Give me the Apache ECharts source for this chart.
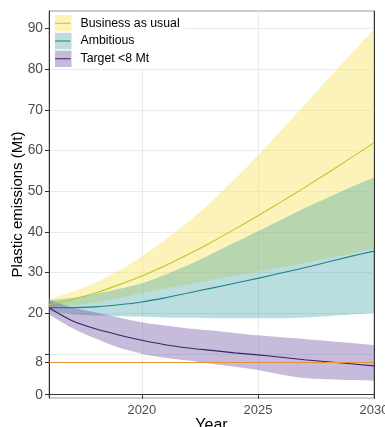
<!DOCTYPE html>
<html><head><meta charset="utf-8">
<script src="https://cdn.jsdelivr.net/npm/echarts@6/dist/echarts.min.js"></script>
<style>html,body{margin:0;padding:0;background:#fff}#c{width:385px;height:427px}</style>
</head><body><div id="c"></div>
<script>
const years = ['2016','2017','2018','2019','2020','2021','2022','2023','2024','2025','2026','2027','2028','2029','2030'];
const xLabels = ['2020','2025','2030'];
const yTicks = [0,8,10,20,30,40,50,60,70,80,90];
const yLabels = [0,8,20,30,40,50,60,70,80,90];
const targetLevel = 8;

const bauLow  = [21.5,21.9,22.6,23.7,25.0,26.1,27.1,28.2,29.2,30.2,31.3,32.4,33.5,34.7,36.0];
const bauMid  = [22.1,23.4,25.0,27.0,29.2,31.7,34.5,37.5,40.7,44.0,47.4,50.9,54.5,58.2,61.9];
const bauHigh = [23.5,25.3,27.6,30.5,34.0,38.0,42.5,47.5,53.0,58.8,65.0,71.2,77.5,83.7,89.8];

const ambLow  = [20.5,19.8,19.4,19.3,19.2,19.0,18.9,18.8,18.8,18.8,18.8,19.0,19.3,19.7,20.0];
const ambMid  = [21.4,21.4,21.6,22.1,22.8,23.8,25.0,26.2,27.4,28.6,29.9,31.2,32.6,34.0,35.3];
const ambHigh = [23.3,23.8,24.8,26.0,27.4,29.5,31.9,34.6,37.4,40.2,43.0,45.8,48.4,51.0,53.3];

const tgtLow  = [19.8,16.4,13.8,11.6,10.1,9.1,8.4,7.6,6.9,6.1,5.0,4.1,3.8,3.6,3.4];
const tgtMid  = [21.4,18.2,16.2,14.7,13.4,12.3,11.5,10.9,10.3,9.8,9.2,8.6,8.1,7.6,7.1];
const tgtHigh = [23.3,21.5,20.2,19.0,17.8,17.0,16.3,15.8,15.2,14.6,14.1,13.7,13.2,12.7,12.2];

const names = ['Business as usual','Ambitious','Target <8 Mt'];
const fills = ['rgba(246,228,100,0.45)','rgba(40,150,155,0.32)','rgba(105,75,160,0.38)'];
const keyFills = ['#fbf3b9','#bddddf','#c6bbdb'];
const lineColors = ['#b5cb2a','#1f7f88','#3b2266'];
const font = "'Liberation Sans', Arial, Helvetica, sans-serif";

function band(key, name, low, high, fill) {
  return [
    {name: key + '_base', type: 'line', stack: key, data: low, symbol: 'none', smooth: 0.3,
     lineStyle: {opacity: 0, width: 0}, silent: true, z: 1},
    {name: name, type: 'line', stack: key, data: high.map((v, i) => +(v - low[i]).toFixed(2)),
     symbol: 'none', smooth: 0.3, lineStyle: {opacity: 0, width: 0},
     areaStyle: {color: fill, opacity: 1}, silent: true, z: 1}
  ];
}
function midLine(name, data, color, extra) {
  return Object.assign({name: name, type: 'line', data: data, symbol: 'none', smooth: 0.3,
    lineStyle: {color: color, width: 1.1}, itemStyle: {color: color}, silent: true, z: 3}, extra || {});
}
const showX = (i, v) => xLabels.indexOf(v) >= 0;
const iconLine = 'path://M0,0L0.01,0L0.01,0.01L0,0.01Z M0,8L16,8L16,9L0,9Z M15.99,16.99L16,16.99L16,17L15.99,17Z';

const legendBase = {left: 51, top: 13, orient: 'vertical', padding: [2, 5, 2, 4], itemGap: 1.3,
  itemWidth: 16.5, itemHeight: 16.5, selectedMode: false, itemStyle: {borderWidth: 0}};

const chart = echarts.init(document.getElementById('c'), null, {renderer: 'canvas'});
chart.setOption({
  animation: false,
  textStyle: {fontFamily: font},
  grid: {left: 49, right: 11, top: 11, bottom: 29, show: true, borderColor: '#9a9a9a', borderWidth: 1,
         containLabel: false, outerBoundsMode: 'none'},
  legend: [
    Object.assign({}, legendBase, {backgroundColor: '#fff', z: 4,
     textStyle: {fontSize: 12.3, color: '#000', fontFamily: font, padding: [0, 0, 0, 4]},
     data: names.map((n, i) => ({name: n, icon: 'rect', itemStyle: {color: keyFills[i], borderWidth: 0}}))}),
    Object.assign({}, legendBase, {z: 5,
     textStyle: {fontSize: 12.3, color: 'rgba(0,0,0,0)', fontFamily: font, padding: [0, 0, 0, 4]},
     data: names.map((n, i) => ({name: n, icon: iconLine, itemStyle: {color: lineColors[i], borderWidth: 0}}))})
  ],
  xAxis: {
    type: 'category', data: years, boundaryGap: false,
    name: 'Year', nameLocation: 'middle', nameGap: 20, nameMoveOverlap: false,
    nameTextStyle: {fontSize: 16, color: '#000', fontFamily: font, verticalAlign: 'top'},
    axisLine: {lineStyle: {color: '#333', width: 1}},
    axisTick: {show: true, interval: showX, length: 4, lineStyle: {color: '#333'}},
    axisLabel: {interval: showX, fontSize: 13, color: '#4d4d4d', margin: 6, fontFamily: font},
    splitLine: {show: true, interval: showX, lineStyle: {color: '#ebebeb', width: 1}}
  },
  yAxis: [{
    type: 'value', min: -0.8, max: 94.3,
    name: 'Plastic emissions (Mt)', nameLocation: 'middle', nameGap: 24, nameRotate: 90, nameMoveOverlap: false,
    nameTextStyle: {fontSize: 15, color: '#000', fontFamily: font},
    axisLine: {show: true, lineStyle: {color: '#333', width: 1}},
    axisTick: {show: true, customValues: yTicks, length: 4, lineStyle: {color: '#333'}},
    axisLabel: {customValues: yLabels, fontSize: 13.8, color: '#4d4d4d', margin: 6, fontFamily: font},
    splitLine: {show: true, lineStyle: {color: '#ebebeb', width: 1}}
  }, {
    type: 'value', min: -0.8, max: 94.3, position: 'right',
    axisLine: {show: true, lineStyle: {color: '#333', width: 1}},
    axisTick: {show: false}, axisLabel: {show: false}, splitLine: {show: false}
  }],
  series: [].concat(
    band('bau', names[0], bauLow, bauHigh, fills[0]),
    band('amb', names[1], ambLow, ambHigh, fills[1]),
    band('tgt', names[2], tgtLow, tgtHigh, fills[2]),
    [
      midLine(names[0], bauMid, lineColors[0]),
      midLine(names[1], ambMid, lineColors[1]),
      midLine(names[2], tgtMid, lineColors[2], {
        markLine: {silent: true, symbol: ['none', 'none'], label: {show: false},
          lineStyle: {color: '#e8913a', width: 1.1, type: 'solid'},
          data: [{yAxis: targetLevel}]}
      })
    ]
  )
});
</script></body></html>
